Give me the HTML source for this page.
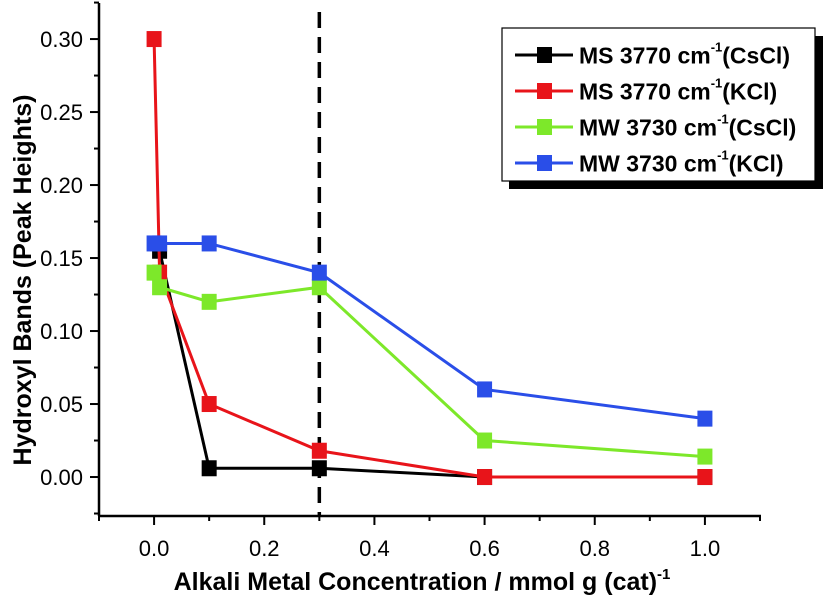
<!DOCTYPE html>
<html><head><meta charset="utf-8"><style>
html,body{margin:0;padding:0;background:#fff;}
svg{display:block;font-family:"Liberation Sans",Arial,sans-serif;}
</style></head><body>
<svg id="chart" width="826" height="602" viewBox="0 0 826 602"></svg>
<script>
const seriesNames = ["MS 3770 cm", "MS 3770 cm", "MW 3730 cm", "MW 3730 cm"];
const seriesSuffix = ["(CsCl)", "(KCl)", "(CsCl)", "(KCl)"];
const seriesColors = ["#000000", "#e8141a", "#7de82a", "#2a4ee8"];
const xBlack = [0.01, 0.1, 0.3, 0.6, 1.0];
const yBlack = [0.155, 0.006, 0.006, 0, 0];
const xRed = [0, 0.01, 0.1, 0.3, 0.6, 1.0];
const yRed = [0.30, 0.14, 0.05, 0.018, 0, 0];
const xGreen = [0, 0.01, 0.1, 0.3, 0.6, 1.0];
const yGreen = [0.14, 0.13, 0.12, 0.13, 0.025, 0.014];
const xBlue = [0, 0.01, 0.1, 0.3, 0.6, 1.0];
const yBlue = [0.16, 0.16, 0.16, 0.14, 0.06, 0.04];
const xTicks = [0.0, 0.2, 0.4, 0.6, 0.8, 1.0];
const xTickLabels = ["0.0", "0.2", "0.4", "0.6", "0.8", "1.0"];
const yTicks = [0, 0.05, 0.10, 0.15, 0.20, 0.25, 0.30];
const yTickLabels = ["0.00", "0.05", "0.10", "0.15", "0.20", "0.25", "0.30"];
const dashedX = 0.3;

const NS = "http://www.w3.org/2000/svg";
const svg = document.getElementById("chart");
const X0 = 99, X1 = 760, Y0 = 516, Y1 = 3;
const xMin = -0.1, xMax = 1.1, yMin = -0.0267, yMax = 0.3247;
function sx(v){ return X0 + (v - xMin) / (xMax - xMin) * (X1 - X0); }
function sy(v){ return Y0 - (v - yMin) / (yMax - yMin) * (Y0 - Y1); }
function mk(tag, attrs, parent){
  const e = document.createElementNS(NS, tag);
  for (const k in attrs) e.setAttribute(k, attrs[k]);
  (parent || svg).appendChild(e);
  return e;
}

let ax = mk("line", {x1:X0, y1:Y1, x2:X0, y2:Y0, stroke:"#000", "stroke-width":2.5});


ax = mk("line", {x1:X0-1, y1:Y0, x2:X1+1, y2:Y0, stroke:"#000", "stroke-width":2.5});



for (let v = -0.025; v <= 0.3251; v += 0.025) {
  const major = Math.abs(Math.round(v / 0.05) * 0.05 - v) < 1e-6;
  const t = mk("line", {x1:X0 - (major ? 9 : 5), y1:sy(v), x2:X0, y2:sy(v), stroke:"#000", "stroke-width":2});
  
  
}
yTicks.forEach((v, i) => {
  const t = mk("text", {x:83, y:sy(v) + 8, "text-anchor":"end", "font-size":22, fill:"#000"});
  t.textContent = yTickLabels[i];
  
  
});
for (let v = -0.1; v <= 1.1001; v += 0.1) {
  const major = Math.abs(Math.round(v / 0.2) * 0.2 - v) < 1e-6;
  const t = mk("line", {x1:sx(v), y1:Y0, x2:sx(v), y2:Y0 + (major ? 9 : 5), stroke:"#000", "stroke-width":2});
  
  
}
xTicks.forEach((v, i) => {
  const t = mk("text", {x:sx(v), y:556, "text-anchor":"middle", "font-size":22, fill:"#000"});
  t.textContent = xTickLabels[i];
  
  
});

let tt = mk("text", {x:0, y:0, transform:"translate(31,280) rotate(-90)", "text-anchor":"middle", "font-size":25, "font-weight":"bold", fill:"#000"});
tt.textContent = "Hydroxyl Bands (Peak Heights)";


tt = mk("text", {x:422, y:590, "text-anchor":"middle", "font-size":25, "font-weight":"bold", fill:"#000"});
tt.innerHTML = 'Alkali Metal Concentration / mmol g (cat)<tspan dy="-11" font-size="15">-1</tspan>';



const dl = mk("line", {x1:sx(dashedX), y1:12, x2:sx(dashedX), y2:Y0, stroke:"#000", "stroke-width":3.5, "stroke-dasharray":"16,9"});



const xs = [xBlack, xRed, xGreen, xBlue];
const ys = [yBlack, yRed, yGreen, yBlue];
const names = ["ms-cscl", "ms-kcl", "mw-cscl", "mw-kcl"];
xs.forEach((xa, s) => {
  const g = mk("g", {});
  
  
  const pts = xa.map((x, i) => sx(x) + "," + sy(ys[s][i])).join(" ");
  const pl = mk("polyline", {points:pts, fill:"none", stroke:seriesColors[s], "stroke-width":3}, g);
  
  
  xa.forEach((x, i) => {
    const r = mk("rect", {x:sx(x) - 7.5, y:sy(ys[s][i]) - 8, width:15, height:16, fill:seriesColors[s]}, g);
    
    
  });
});

const lg = mk("g", {});


mk("rect", {x:509, y:36, width:314, height:153, fill:"#000"}, lg);
mk("rect", {x:502, y:28, width:313, height:153, fill:"#fff", stroke:"#000", "stroke-width":1.2}, lg);
seriesNames.forEach((n, i) => {
  const y = 55 + i * 36;
  const e = mk("g", {}, lg);
  
  
  mk("line", {x1:515, y1:y, x2:573, y2:y, stroke:seriesColors[i], "stroke-width":3}, e);
  mk("rect", {x:537, y:y - 8, width:15, height:16, fill:seriesColors[i]}, e);
  const t = mk("text", {x:579, y:y + 8.5, "font-size":23, "font-weight":"bold", fill:"#000"}, e);
  t.innerHTML = n + '<tspan dy="-12" font-size="13">-1</tspan><tspan dy="12">' + seriesSuffix[i] + '</tspan>';
});
</script>
</body></html>
